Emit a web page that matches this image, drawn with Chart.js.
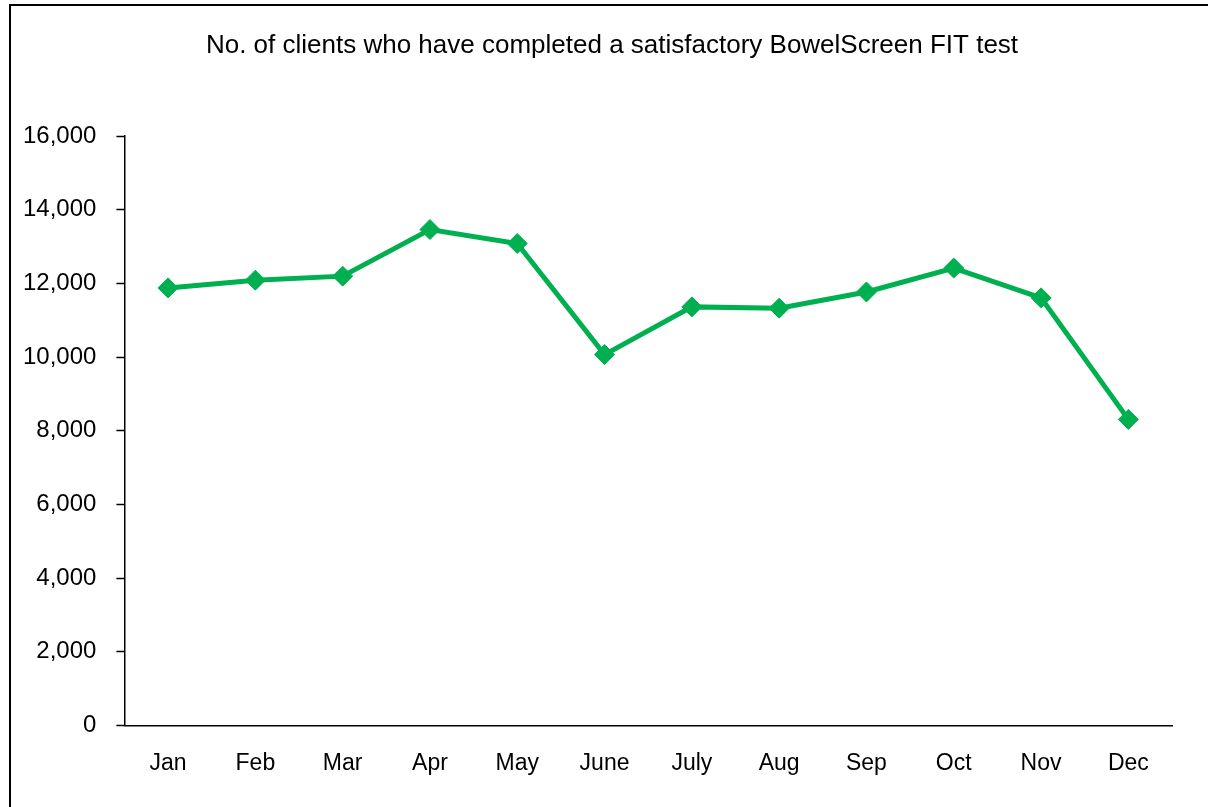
<!DOCTYPE html>
<html>
<head>
<meta charset="utf-8">
<script src="https://cdn.jsdelivr.net/npm/chart.js@4/dist/chart.umd.min.js"></script>
<style>
  html, body { margin: 0; padding: 0; background: #fff; overflow: hidden; }
  #frame { position: absolute; left: 9px; top: 4px; width: 1300px; height: 900px; border: 2px solid #000; box-sizing: border-box; }
  #wrap { position: absolute; left: 0; top: 0; width: 1208px; height: 807px; }
</style>
</head>
<body>
<div id="frame"></div>
<div id="wrap"><canvas id="c" width="1208" height="807"></canvas></div>
<script>
const titleText = 'No. of clients who have completed a satisfactory BowelScreen FIT test';
const months = ['Jan', 'Feb', 'Mar', 'Apr', 'May', 'June', 'July', 'Aug', 'Sep', 'Oct', 'Nov', 'Dec'];
const clients = [11880, 12090, 12200, 13465, 13085, 10070, 11365, 11330, 11770, 12420, 11610, 8310];
const yTicks = [0, 2000, 4000, 6000, 8000, 10000, 12000, 14000, 16000];

const FONT = 'Liberation Sans, Arial, sans-serif';
const green = '#00B050';

const centerTitle = {
  id: 'centerTitle',
  afterLayout(chart) {
    if (chart.titleBlock) {
      chart.titleBlock.left = 16;
      chart.titleBlock.right = 1208;
    }
  }
};

new Chart(document.getElementById('c'), {
  type: 'line',
  data: {
    labels: months,
    datasets: [{
      data: clients,
      borderColor: green,
      backgroundColor: green,
      borderWidth: 5,
      pointStyle: 'rectRot',
      pointRadius: 10,
      pointBorderWidth: 1,
      pointBackgroundColor: green,
      pointBorderColor: green,
      tension: 0,
      fill: false
    }]
  },
  plugins: [centerTitle],
  options: {
    responsive: false,
    animation: false,
    layout: { padding: { top: 30, left: 3, right: 36, bottom: 6 } },
    plugins: {
      legend: { display: false },
      tooltip: { enabled: false },
      title: {
        display: true,
        text: titleText,
        color: '#000',
        font: { family: FONT, size: 26, weight: 'normal' },
        padding: { top: 0, bottom: 75 }
      }
    },
    scales: {
      x: {
        offset: true,
        grid: { display: true, drawOnChartArea: false, drawTicks: false },
        border: { display: true, color: '#000', width: 1.5 },
        ticks: { color: '#000', font: { family: FONT, size: 23 }, padding: 24, maxRotation: 0 }
      },
      y: {
        min: 0,
        max: 16000,
        afterBuildTicks: (axis) => { axis.ticks = yTicks.map(v => ({ value: v })); },
        grid: { display: true, drawOnChartArea: false, drawTicks: true, tickLength: 8, color: '#000', tickWidth: 1.5 },
        border: { display: true, color: '#000', width: 1.5 },
        ticks: {
          color: '#000',
          font: { family: FONT, size: 24 },
          padding: 20,
          callback: (v) => Number(v).toLocaleString('en-US')
        }
      }
    }
  }
});
</script>
</body>
</html>
